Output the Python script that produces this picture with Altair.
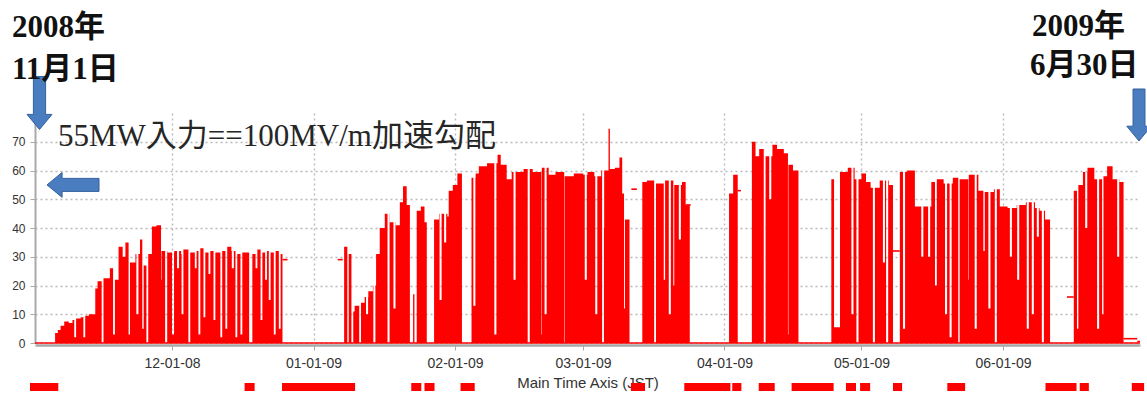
import altair as alt
import pandas as pd

T0 = pd.Timestamp("2008-11-01")

# Red trace, upper envelope as step breakpoints: days after 2008-11-01 and level (MW)
env_day = [
    0.0, 4.4, 5.0, 5.6, 6.4, 7.4, 8.2, 9.0, 10.0, 11.0, 11.8, 13.2, 13.7, 15.0, 16.4,
    17.5, 18.3, 19.2, 19.8, 20.8, 22.0, 23.0, 23.8, 24.8, 25.6, 26.6, 27.7, 29.0, 30.5,
    32.0, 32.5, 34.0, 35.4, 36.2, 37.3, 38.4, 39.5, 41.0, 42.1, 43.0, 44.3, 45.4, 46.9,
    47.6, 48.7, 49.8, 50.8, 51.6, 52.7, 53.8, 54.2,
    67.7, 68.4, 68.7, 69.3, 69.7, 70.0, 71.4, 72.2, 73.0, 74.0, 74.7, 75.5, 76.6, 77.7,
    79.0, 79.9, 80.6, 81.4, 82.1, 82.8, 83.1, 83.6, 84.5, 85.3, 85.8, 87.4, 88.5, 90.3,
    90.6, 91.5, 92.5, 93.5, 95.6, 96.5, 97.2, 99.0, 101.3, 102.0, 103.3, 104.4, 107.0,
    109.0, 111.0, 112.5, 114.0, 116.0, 118.0, 120.0,
    121.0, 122.5, 124.0, 125.6, 125.9, 127.0, 128.0, 128.6, 129.2, 130.2, 133.0, 134.0,
    136.0, 138.0, 140.0, 141.7, 142.5, 143.4, 152.0, 152.9, 153.9, 157.0, 157.8, 158.6,
    160.0, 161.5, 162.5, 164.0, 165.0, 166.0, 167.2, 174.4, 175.0, 176.3, 178.0, 179.5,
    181.0, 182.0, 183.0, 185.0, 187.0, 187.9, 189.4, 191.0, 192.7, 196.3, 197.5, 199.0,
    201.0, 202.5, 204.5, 206.6, 208.0, 210.0, 211.3, 213.0, 215.0, 217.0, 219.0, 220.0,
    221.2, 222.3, 227.5, 228.5, 229.5, 230.5, 232.0, 234.0, 234.8, 236.0, 237.5, 238.4,
    242.0,
]
env_mw = [
    0, 3.5, 4.5, 6, 7.5, 7, 8, 8.5, 9, 9.5, 10, 19, 21.5, 22.5, 26,
    22, 33.5, 30, 35, 28, 31, 36, 27, 31, 40.5, 41, 32, 31.5, 32,
    31, 32.5, 31.5, 32, 33, 31.5, 32, 31.5, 32, 33.5, 32, 31, 31.5, 0,
    31, 32.5, 31.5, 32, 31.5, 32, 31, 0,
    33.5, 0, 31, 0, 11, 13, 14, 16, 18, 20, 31, 40, 45, 42,
    41, 49, 54.5, 48, 0, 17, 0, 46, 47.5, 42, 0, 43, 45, 44,
    53, 55, 59, 0, 57.5, 59, 61.5, 62.5, 65.5, 62, 57, 59.5, 60.5,
    59.5, 61, 58.5, 59.5, 58, 59, 58.5,
    59.5, 58, 60, 74.5, 60.5, 61, 64.5, 52, 43, 0, 56, 56.5,
    55.5, 56.5, 55, 56, 48, 0, 52, 58.5, 0, 70, 65, 67.5,
    65, 69, 67.5, 66, 62, 60, 0, 57, 5.5, 59.5, 61, 57,
    59, 56, 54, 56.5, 55, 0, 59.5, 60, 47.5, 56, 57, 55.5,
    57.5, 57, 58.5, 53, 52.5, 53.5, 47.5, 47, 48, 49, 47, 46,
    43, 0, 53, 55, 59.5, 61, 57, 58, 61.5, 57, 56, 0,
    0,
]

# Short dropouts inside the running periods: day and the level reached
dip_day = [
    8.6, 10.6, 14.6, 17.1, 20.5, 22.2, 23.5, 24.4, 27.6, 28.5, 30.0, 31.1, 32.1, 33.6,
    35.0, 35.8, 36.9, 38.0, 39.1, 40.6, 41.7, 43.1, 43.9, 45.0, 48.3, 49.4, 50.4, 51.2,
    52.3, 53.4,
    71.0, 72.5, 74.1, 77.2, 78.5, 88.6, 89.6, 96.0, 100.6, 104.8, 107.9, 110.9, 111.6,
    115.9, 120.4,
    122.7, 124.2, 124.6, 129.0, 135.6, 137.7, 138.8, 139.8, 141.0, 159.6, 160.8, 164.9,
    178.8, 179.9,
    183.5, 185.7, 186.4, 190.1, 194.1, 195.6, 197.1, 199.3, 200.3, 202.2, 204.4, 205.8,
    207.7, 208.8, 210.2, 213.5, 215.1, 217.2, 218.3, 219.4, 220.5, 228.2, 230.0, 232.6,
    233.7, 237.0,
]
dip_mw = [
    2, 2, 0, 3, 3, 10, 5, 0, 22, 0, 3, 26, 10, 0,
    26, 3, 9, 24, 8, 2, 5, 26, 2, 3, 26, 8, 22, 15,
    3, 5,
    0, 10, 0, 0, 12, 15, 35, 13, 3, 22, 0, 3, 10,
    0, 22,
    10, 0, 40, 12, 0, 22, 10, 20, 36, 0, 50, 3,
    10, 0,
    0, 28, 0, 5, 30, 30, 20, 10, 2, 0, 22, 5,
    32, 12, 0, 30, 22, 5, 10, 37, 0, 5, 40, 5,
    10, 30,
]
DIP_WIDTH = 0.45  # days

# Isolated short readings drawn as dashes: start day, end day, level
dash_start = [54.2, 66.3, 130.6, 142.5, 153.9, 187.9, 226.0, 238.4, 241.4]
dash_end = [55.3, 67.4, 131.8, 143.6, 154.6, 189.4, 227.5, 241.4, 242.0]
dash_mw = [29, 29, 53.5, 48, 53, 32, 16, 1.5, 0.5]

# Outage periods marked along the bottom strip: start day, end day
off_start = [-1.1, 45.9, 54.1, 82.4, 85.3, 93.2, 130.5, 142.2, 152.7, 158.5, 165.7,
             177.6, 180.7, 187.9, 199.8, 221.3, 228.8, 240.2]
off_end = [5.1, 48.1, 70.1, 84.6, 87.5, 96.3, 133.6, 152.3, 154.7, 162.0, 174.9,
           179.8, 182.9, 189.9, 203.7, 228.1, 230.8, 242.9]

month_ticks = ["2008-12-01", "2009-01-01", "2009-02-01", "2009-03-01",
               "2009-04-01", "2009-05-01", "2009-06-01"]
y_ticks = [0, 10, 20, 30, 40, 50, 60, 70]


def at(days):
    return [T0 + pd.Timedelta(days=float(d)) for d in days]


def level_at(d):
    v = env_mw[0]
    for dd, vv in zip(env_day, env_mw):
        if dd <= d:
            v = vv
        else:
            break
    return v


pts = list(zip(env_day, env_mw))
for d, v in zip(dip_day, dip_mw):
    pts.append((d, v))
    pts.append((d + DIP_WIDTH, level_at(d + DIP_WIDTH)))
pts.sort(key=lambda p: p[0])

trace = pd.DataFrame({"t": at([p[0] for p in pts]), "mw": [p[1] for p in pts]})
dashes = pd.DataFrame({"t0": at(dash_start), "t1": at(dash_end), "mw": dash_mw})
outages = pd.DataFrame({"t0": at(off_start), "t1": at(off_end)})
span = pd.DataFrame({"t0": at([0]), "t1": at([242]), "mw": [0]})
marks_start = pd.DataFrame({"t": at([0])})
marks_end = pd.DataFrame({"t": at([242])})
level_mark = pd.DataFrame({"mw": [55]})

W, H = 1105, 230
RED = "#ff0000"
GRID = "#b9b9b9"
AXIS = "#a9a9a9"
SANS = "Liberation Sans"
SERIF = "Liberation Serif, Noto Sans CJK JP"

x_scale = alt.Scale(domain=[alt.DateTime(year=2008, month=11, date=1),
                            alt.DateTime(year=2009, month=7, date=1)])
y_scale = alt.Scale(domain=[0, 80], nice=False)

x_axis = alt.Axis(
    values=[alt.DateTime(year=int(s[:4]), month=int(s[5:7]), date=1) for s in month_ticks],
    format="%m-%d-%y", title="Main Time Axis (JST)", offset=2,
    labelFont=SANS, labelFontSize=14, labelColor="#333333", labelPadding=6,
    titleFont=SANS, titleFontSize=15, titleFontWeight="normal", titleColor="#333333",
    titlePadding=5, domainColor=AXIS, domainWidth=2.5, tickColor=AXIS, tickSize=5,
    gridColor=GRID, gridDash=[2, 3], gridWidth=1.4,
)
y_axis = alt.Axis(
    values=y_ticks, title=None, labelFont=SANS, labelFontSize=12, labelColor="#333333",
    labelPadding=5, domainColor=AXIS, domainWidth=2, tickColor=AXIS, tickSize=5,
    gridColor=GRID, gridDash=[2, 3], gridWidth=1.4,
)


def X(field):
    return alt.X(field, scale=x_scale, axis=x_axis)


def Y(field):
    return alt.Y(field, scale=y_scale, axis=y_axis)


area = alt.Chart(trace).mark_area(interpolate="step-after", color=RED).encode(
    x=X("t:T"), y=Y("mw:Q"))
baseline = alt.Chart(span).mark_rule(color=RED, strokeWidth=1.6).encode(
    x=X("t0:T"), x2="t1:T", y=Y("mw:Q"))
dash_layer = alt.Chart(dashes).mark_rule(color=RED, strokeWidth=1.6).encode(
    x=X("t0:T"), x2="t1:T", y=Y("mw:Q"))
outage_layer = alt.Chart(outages).mark_rect(color=RED).encode(
    x=X("t0:T"), x2="t1:T", y=alt.value(H + 40), y2=alt.value(H + 48))

DOWN = "M-0.23,-1L0.23,-1L0.23,0.43L0.47,0.43L0,1L-0.47,0.43L-0.23,0.43Z"
LEFT = "M-1,0L-0.42,-0.48L-0.42,-0.25L1,-0.25L1,0.25L-0.42,0.25L-0.42,0.48Z"
arrow_style = dict(filled=True, fill="#4a7cc0", stroke="#33609e", strokeWidth=1, opacity=1)

arrow_start = alt.Chart(marks_start).mark_point(
    shape=DOWN, size=53 ** 2, xOffset=4.5, **arrow_style).encode(
    x=X("t:T"), y=alt.value(-10))
arrow_end = alt.Chart(marks_end).mark_point(
    shape=DOWN, size=52 ** 2, xOffset=-1, **arrow_style).encode(
    x=X("t:T"), y=alt.value(2))
arrow_level = alt.Chart(level_mark).mark_point(
    shape=LEFT, size=52 ** 2, **arrow_style).encode(
    x=alt.value(38), y=Y("mw:Q"))


def label(text, x, y, size, weight, color):
    return alt.Chart().mark_text(
        text=text, align="left", baseline="alphabetic", font=SERIF,
        fontSize=size, fontWeight=weight, color=color,
    ).encode(x=alt.value(x), y=alt.value(y))


texts = [
    label("2008年", -23, -76, 31, "bold", "#111111"),
    label("11月1日", -23, -34, 31, "bold", "#111111"),
    label("2009年", 997, -77, 31, "bold", "#111111"),
    label("6月30日", 995, -38, 31, "bold", "#111111"),
    label("55MW入力==100MV/m加速勾配", 23, 33, 31, "normal", "#262626"),
]

chart = alt.layer(
    area, baseline, dash_layer, outage_layer, arrow_start, arrow_end, arrow_level, *texts
).properties(
    width=W, height=H,
    autosize=alt.AutoSizeParams(type="none"),
    padding={"left": 35, "top": 113, "right": 7, "bottom": 51},
    background="white",
).configure_view(strokeWidth=0)

chart.save("out.html", embed_options={"renderer": "svg", "actions": False})
